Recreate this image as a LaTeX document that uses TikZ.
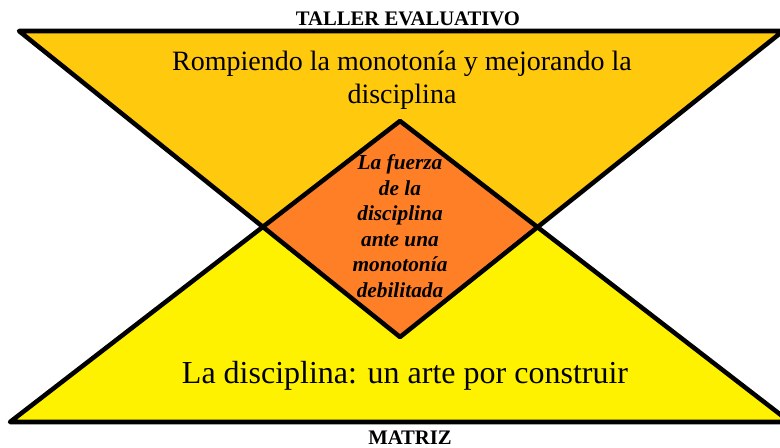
\documentclass[tikz,border=0pt]{standalone}
\usepackage{fontspec}
\setmainfont{Liberation Serif}
\tikzset{every picture/.style={line width=0.75pt}}

\begin{document}
\begin{tikzpicture}[x=0.75pt,y=0.75pt,yscale=-1,xscale=1]
	\useasboundingbox (0,0) rectangle (780,447);

	%Shape: Triangle [id:top]
	\coordinate (topL) at (19,31);
	\coordinate (topR) at (783,31);
	\coordinate (topA) at (400,337);
	%Shape: Triangle [id:bottom]
	\coordinate (botL) at (10,422);
	\coordinate (botR) at (790,422);
	\coordinate (botA) at (400,121);

	\fill [fill={rgb, 255:red, 255; green, 201; blue, 14 }] (topL) -- (topR) -- (topA) -- cycle ;
	\fill [fill={rgb, 255:red, 255; green, 242; blue, 0 }] (botL) -- (botR) -- (botA) -- cycle ;
	%Shape: Diamond, where the two meet
	\begin{scope}
		\clip (topL) -- (topR) -- (topA) -- cycle ;
		\fill [fill={rgb, 255:red, 255; green, 127; blue, 39 }] (botL) -- (botR) -- (botA) -- cycle ;
	\end{scope}
	\draw [line width=3.4pt, line join=round] (topL) -- (topR) -- (topA) -- cycle ;
	\draw [line width=3.4pt, line join=round] (botL) -- (botR) -- (botA) -- cycle ;

	% Text Node
	\node (taller) [font={\fontsize{15.5}{18}\selectfont\bfseries}] at (408,18.5) {TALLER EVALUATIVO};
	% Text Node
	\node (rompiendo) [align=center, font={\fontsize{21}{24.75}\selectfont}] at (402,80) {Rompiendo la monotonía y mejorando la\\disciplina};
	% Text Node
	\node (fuerza) [align=center, font={\fontsize{16}{19.1}\selectfont\bfseries\itshape}] at (400,226) {La fuerza\\de la\\disciplina\\ante una\\monotonía\\debilitada};
	% Text Node
	\node (arte) [font={\fontsize{24}{28}\selectfont}] at (405,376) {La disciplina: un arte por construir};
	% Text Node
	\node (matriz) [font={\fontsize{15.5}{18}\selectfont\bfseries}] at (410,437.5) {MATRIZ};

\end{tikzpicture}
\end{document}
